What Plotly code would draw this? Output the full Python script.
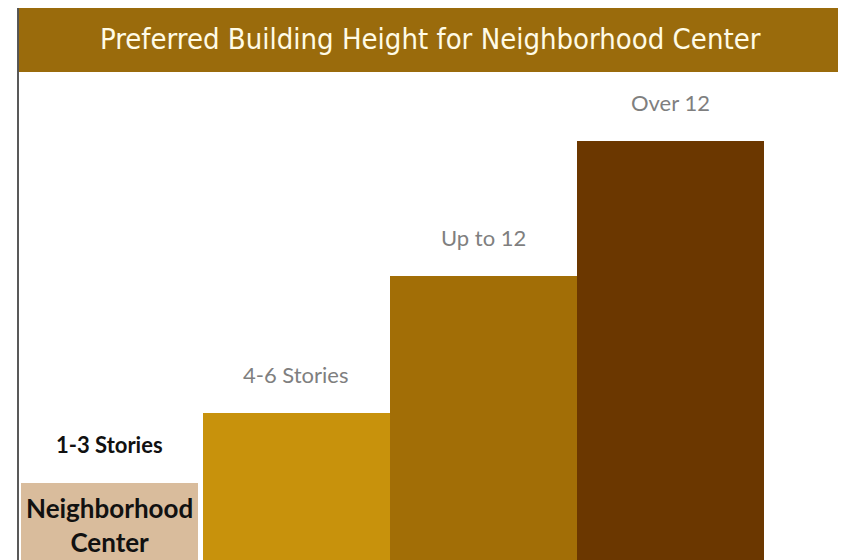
import plotly.graph_objects as go

# data (relative bar heights, no axis shown)
categorias = ["1-3 Stories", "4-6 Stories", "Up to 12", "Over 12"]
alturas = [0.77, 1.47, 2.84, 4.19]
rotulos = ["<b>1-3 Stories</b>", "4-6 Stories", "Up to 12", "Over 12"]
rotulo_barra = "<b>Neighborhood<br>Center</b>"
titulo = "Preferred Building Height for Neighborhood Center"

cores = ["#d9bc9c", "#c8920c", "#a26e06", "#6b3700"]
larguras = [0.95, 1, 1, 1]
cores_rotulo = ["#111111", "#7f7f7f", "#7f7f7f", "#7f7f7f"]

fig = go.Figure(go.Bar(x=categorias, y=alturas, width=larguras,
                       marker=dict(color=cores, line=dict(width=0)),
                       hoverinfo="skip"))

fonte_rotulo = "Lato, Open Sans, sans-serif"
for cat, alt, txt, cor in zip(categorias, alturas, rotulos, cores_rotulo):
    fig.add_annotation(x=cat, y=alt, text=txt, showarrow=False,
                       yanchor="middle", yshift=39,
                       font=dict(family=fonte_rotulo, size=22, color=cor))

fig.add_annotation(x=categorias[0], y=alturas[0] / 2, text=rotulo_barra,
                   showarrow=False, yanchor="middle", yshift=-3,
                   font=dict(family=fonte_rotulo, size=26, color="#111111"))

# title band
fig.add_shape(type="rect", xref="paper", yref="paper",
              x0=0.001, x1=0.996, y0=1.0, y1=1.14,
              fillcolor="#9a6b0c", line=dict(width=0), layer="below")
fig.add_annotation(xref="paper", yref="paper", x=0.5, y=1.067, text=titulo,
                   showarrow=False, yanchor="middle",
                   font=dict(family="Liberation Sans Narrow, DejaVu Sans Condensed, Arial Narrow, sans-serif",
                             size=29, color="#fffbe6"))

# frame lines left and right
fig.add_shape(type="line", xref="paper", yref="paper", x0=0, x1=0, y0=0, y1=1.15,
              line=dict(color="#222222", width=1.5))
fig.add_shape(type="line", xref="paper", yref="paper", x0=1, x1=1, y0=0, y1=1.15,
              line=dict(color="#c8c8c8", width=1))

# page body keeps an 8px margin, so the figure is sized to the visible area
fig.update_layout(
    width=838, height=552,
    margin=dict(l=10, r=3, t=64, b=0),
    paper_bgcolor="white", plot_bgcolor="white",
    showlegend=False, bargap=0,
    xaxis=dict(range=[-0.489, 3.922], showticklabels=False, showgrid=False,
               zeroline=False, fixedrange=True),
    yaxis=dict(range=[0, 4.88], showticklabels=False, showgrid=False,
               zeroline=False, fixedrange=True),
)

fig.write_html("out.html")
